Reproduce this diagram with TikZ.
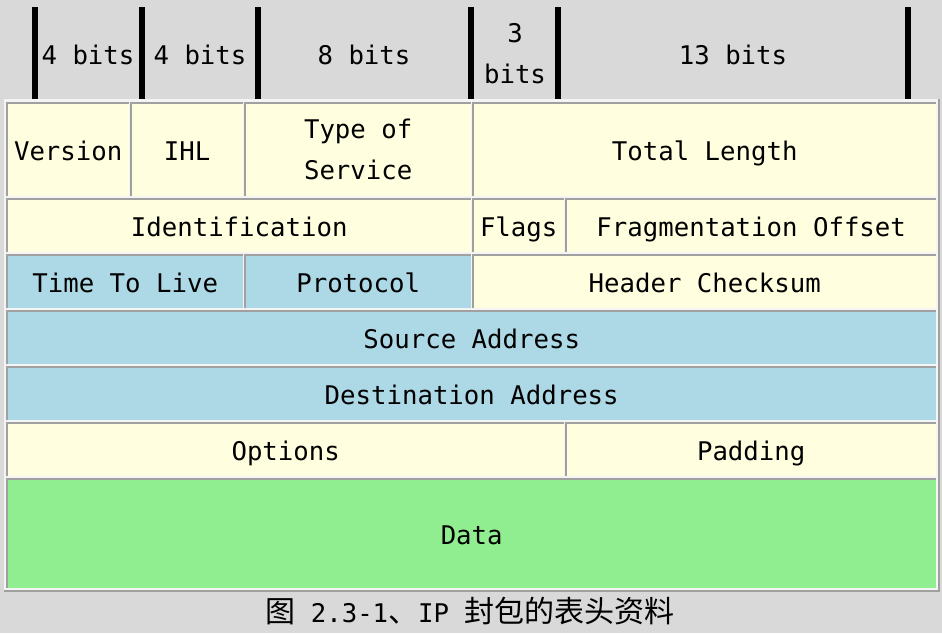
\documentclass[tikz,border=0pt]{standalone}
\usepackage{fontspec}
\newfontfamily\cellfont{DejaVu Sans Mono}
\newfontfamily\cjk{Noto Sans CJK SC}
\definecolor{pagegray}{HTML}{D9D9D9}
\definecolor{gapwhite}{HTML}{F4F4F4}
\definecolor{rulegray}{HTML}{A0A0A0}
\definecolor{ipyellow}{HTML}{FFFFE0}
\definecolor{ipblue}{HTML}{ADD8E6}
\definecolor{ipgreen}{HTML}{90EE90}
\tikzset{
    field/.style={anchor=north west, inner sep=0pt, align=center,
        font=\cellfont\fontsize{25.7}{41}\selectfont},
    oneline/.style={text height=26pt, text depth=4.3pt},
    yfield/.style={field, oneline, fill=ipyellow},
    bfield/.style={field, oneline, fill=ipblue},
    gfield/.style={field, oneline, fill=ipgreen},
    bitlabel/.style={inner sep=0pt, align=center,
        font=\cellfont\fontsize{25.7}{41}\selectfont},
}
\begin{document}
\begin{tikzpicture}[x=1pt,y=-1pt]
    \fill [pagegray] (0,0) rectangle (942,633);% page
    \useasboundingbox (0,0) rectangle (942,633);
    % bit-width ruler
    \foreach \x in {32,139,255,468,555,905}
        \fill [black] (\x,7) rectangle ++(5.5,92);
    \node [bitlabel] (bitsVersion) at (88,55)  {4 bits};
    \node [bitlabel] (bitsIHL)     at (200,55) {4 bits};
    \node [bitlabel] (bitsTOS)     at (364,55) {8 bits};
    \node [bitlabel] (bitsFlags)   at (515,54) {3\\bits};
    \node [bitlabel] (bitsFrag)    at (733,55) {13 bits};
    % table frame
    \fill [gapwhite] (4,99) rectangle (940,592);
    \draw [rulegray, line width=2pt] (4,591) -- (939,591) -- (939,99);
    % row 1
    \node [yfield, minimum width=122pt, minimum height=93pt] (version) at (7,103)   {Version};
    \node [yfield, minimum width=112pt, minimum height=93pt] (ihl)     at (131,103) {IHL};
    \node [field, fill=ipyellow, minimum width=226pt, minimum height=93pt] (tos) at (245,103) {Type of\\Service};
    \node [yfield, minimum width=463pt, minimum height=93pt] (totlen)  at (473,103) {Total Length};
    % row 2
    \node [yfield, minimum width=464pt, minimum height=53pt] (ident)   at (7,199)   {Identification};
    \node [yfield, minimum width=91pt,  minimum height=53pt] (flags)   at (473,199) {Flags};
    \node [yfield, minimum width=370pt, minimum height=53pt] (fragoff) at (566,199) {Fragmentation Offset};
    % row 3
    \node [bfield, minimum width=236pt, minimum height=53pt] (ttl)     at (7,255)   {Time To Live};
    \node [bfield, minimum width=226pt, minimum height=53pt] (proto)   at (245,255) {Protocol};
    \node [yfield, minimum width=463pt, minimum height=53pt] (hcsum)   at (473,255) {Header Checksum};
    % rows 4 to 7
    \node [bfield, minimum width=929pt, minimum height=53pt] (srcaddr) at (7,311)   {Source Address};
    \node [bfield, minimum width=929pt, minimum height=53pt] (dstaddr) at (7,367)   {Destination Address};
    \node [yfield, minimum width=557pt, minimum height=53pt] (options) at (7,423)   {Options};
    \node [yfield, minimum width=370pt, minimum height=53pt] (padding) at (566,423) {Padding};
    \node [gfield, minimum width=929pt, minimum height=109pt] (data)   at (7,479)   {Data};
    % sunken cell edges
    \foreach \c in {version,ihl,tos,totlen,ident,flags,fragoff,ttl,proto,hcsum,
                    srcaddr,dstaddr,options,padding,data}
        \draw [rulegray, line width=1.5pt] (\c.south west) -- (\c.north west) -- (\c.north east);
    \node [inner sep=0pt, font=\cellfont\fontsize{25.7}{31}\selectfont] (caption) at (470,611)
        {{\cjk\fontsize{30}{31}\selectfont 图} 2.3-1{\cjk\fontsize{30}{31}\selectfont 、}IP {\cjk\fontsize{30}{31}\selectfont 封包的表头资料}};
\end{tikzpicture}
\end{document}
